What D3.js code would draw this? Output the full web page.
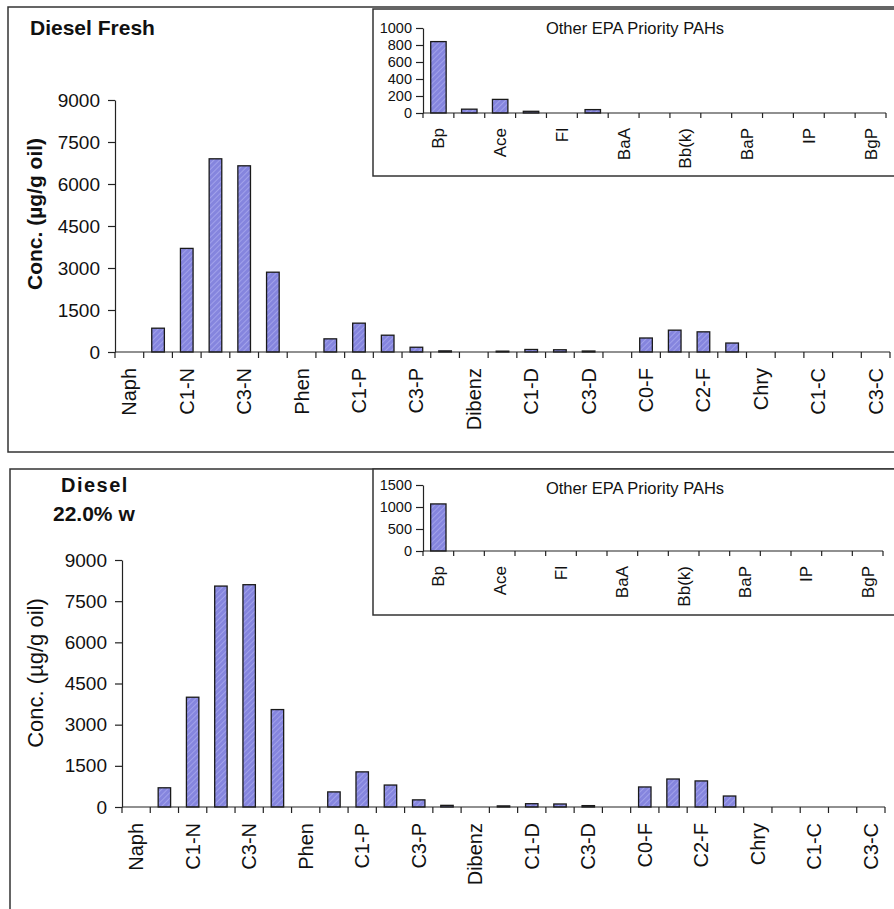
<!DOCTYPE html>
<html>
<head>
<meta charset="utf-8">
<script src="https://cdn.jsdelivr.net/npm/d3@7"></script>
<style>
  html, body { margin: 0; padding: 0; background: #fff; }
  svg { display: block; font-family: "Liberation Sans", Arial, sans-serif; }
</style>
</head>
<body>
<svg id="chart" width="894" height="909"></svg>
<script>
// Alkylated PAH groups (every other one is labelled on the axis)
const categories = ["Naph","C0-N","C1-N","C2-N","C3-N","C4-N",
  "Phen","C0-P","C1-P","C2-P","C3-P","C4-P",
  "Dibenz","C0-D","C1-D","C2-D","C3-D",
  "Fluor","C0-F","C1-F","C2-F","C3-F",
  "Chry","C0-C","C1-C","C2-C","C3-C"];

// Other EPA priority PAHs
const otherPAHs = ["Bp","Acl","Ace","An","Fl","Py","BaA","BkF","Bb(k)","BeP","BaP","Pe","IP","DA","BgP"];

// Concentrations, µg/g oil
const freshValues = [0, 850, 3700, 6900, 6650, 2850,
  0, 470, 1030, 600, 170, 40,
  0, 30, 90, 80, 35,
  0, 500, 780, 720, 320,
  0, 0, 0, 0, 0];
const weatheredValues = [0, 700, 4000, 8050, 8100, 3550,
  0, 550, 1280, 800, 260, 60,
  0, 40, 120, 110, 50,
  0, 730, 1020, 950, 400,
  0, 0, 0, 0, 0];

const freshOther = [840, 45, 160, 20, 0, 40, 0, 0, 0, 0, 0, 0, 0, 0, 0];
const weatheredOther = [1070, 0, 0, 0, 0, 0, 0, 0, 0, 0, 0, 0, 0, 0, 0];

const mainTicks = [0, 1500, 3000, 4500, 6000, 7500, 9000];
const freshOtherTicks = [0, 200, 400, 600, 800, 1000];
const weatheredOtherTicks = [0, 500, 1000, 1500];

const yLabel = "Conc. (µg/g oil)";
const insetTitle = "Other EPA Priority PAHs";

const svg = d3.select("#chart");

// Hatched purple fill used by every bar
const defs = svg.append("defs");
const pat = defs.append("pattern")
  .attr("id", "hatch")
  .attr("patternUnits", "userSpaceOnUse")
  .attr("width", 4).attr("height", 4)
  .attr("patternTransform", "rotate(45)");
pat.append("rect").attr("width", 4).attr("height", 4).attr("fill", "#8585de");
pat.append("line").attr("x1", 0).attr("y1", 0).attr("x2", 0).attr("y2", 4)
  .attr("stroke", "#a8a8ee").attr("stroke-width", 1.6);

function drawBars(g, cats, values, x, y, xRange, opts) {
  // bars
  g.append("g").selectAll("rect")
    .data(cats.map((c, i) => ({ c, v: values[i] })).filter(d => d.v > 0))
    .join("rect")
    .attr("x", d => x(d.c))
    .attr("width", x.bandwidth())
    .attr("y", d => y(d.v))
    .attr("height", d => y(0) - y(d.v))
    .attr("fill", "url(#hatch)")
    .attr("stroke", "#1a1a1a")
    .attr("stroke-width", 1.3);

  // y axis
  const yAxis = d3.axisLeft(y).tickValues(opts.yTicks)
    .tickFormat(d3.format("d"))
    .tickSize(opts.yTickSize).tickPadding(opts.yPad).tickSizeOuter(0);
  const ya = g.append("g").attr("transform", `translate(${xRange[0]},0)`).call(yAxis);
  ya.select(".domain").attr("stroke", "#222").attr("stroke-width", 1.2);
  ya.selectAll(".tick line").attr("stroke", "#222").attr("stroke-width", 1.2);
  ya.selectAll(".tick text").attr("font-size", opts.yFont).attr("fill", "#111")
    .attr("font-family", "'Liberation Sans', Arial, sans-serif");

  // x axis line with ticks between categories
  const base = y(0);
  g.append("line").attr("x1", xRange[0]).attr("x2", xRange[1])
    .attr("y1", base).attr("y2", base)
    .attr("stroke", "#222").attr("stroke-width", 1.2);
  const step = x.step();
  g.append("g").selectAll("line")
    .data(d3.range(cats.length + 1))
    .join("line")
    .attr("x1", i => xRange[0] + i * step).attr("x2", i => xRange[0] + i * step)
    .attr("y1", base).attr("y2", base + opts.xTickSize)
    .attr("stroke", "#222").attr("stroke-width", 1.2);

  // rotated category labels, every other one
  g.append("g").selectAll("text")
    .data(cats.filter((c, i) => i % 2 === 0))
    .join("text")
    .attr("transform", d => `translate(${x(d) + x.bandwidth() / 2},${base + opts.labelOffset}) rotate(-90)`)
    .attr("text-anchor", "end")
    .attr("dy", "0.35em")
    .attr("font-size", opts.xFont)
    .attr("fill", "#111")
    .text(d => d);
}

function drawPanel(p) {
  const g = svg.append("g");
  // outer frame
  g.append("rect").attr("x", p.frame[0]).attr("y", p.frame[1])
    .attr("width", p.frame[2]).attr("height", p.frame[3])
    .attr("fill", "none").attr("stroke", "#333").attr("stroke-width", 1.5);

  // main chart
  const x = d3.scaleBand().domain(categories).range(p.xRange)
    .paddingInner(0.56).paddingOuter(0.28);
  const y = d3.scaleLinear().domain([0, 9000]).range(p.yRange);
  drawBars(g, categories, p.values, x, y, p.xRange, {
    yTicks: mainTicks, yTickSize: 7, yPad: 8, yFont: 19,
    xTickSize: 6, xFont: 20, labelOffset: 16
  });

  // titles
  p.titles.forEach(t => {
    g.append("text").attr("x", t.x).attr("y", t.y)
      .attr("font-size", t.size).attr("font-weight", "bold")
      .attr("letter-spacing", t.spacing || 0)
      .attr("fill", "#111").text(t.text);
  });

  // y label
  g.append("text")
    .attr("transform", `translate(${p.yLabelPos[0]},${p.yLabelPos[1]}) rotate(-90)`)
    .attr("text-anchor", "middle")
    .attr("font-size", p.yLabelBold ? 21 : 22)
    .attr("font-weight", p.yLabelBold ? "bold" : "normal")
    .attr("fill", "#111")
    .text(yLabel);

  // inset chart
  const ig = g.append("g");
  ig.append("rect").attr("x", p.inset.frame[0]).attr("y", p.inset.frame[1])
    .attr("width", p.inset.frame[2]).attr("height", p.inset.frame[3])
    .attr("fill", "#fff").attr("stroke", "#333").attr("stroke-width", 1.5);
  const ix = d3.scaleBand().domain(otherPAHs).range(p.inset.xRange)
    .paddingInner(0.5).paddingOuter(0.25);
  const iy = d3.scaleLinear().domain([0, p.inset.max]).range(p.inset.yRange);
  drawBars(ig, otherPAHs, p.inset.values, ix, iy, p.inset.xRange, {
    yTicks: p.inset.ticks, yTickSize: 7, yPad: 4, yFont: 14.5,
    xTickSize: 5, xFont: 17, labelOffset: 15
  });
  ig.append("text").attr("x", p.inset.titlePos[0]).attr("y", p.inset.titlePos[1])
    .attr("text-anchor", "middle").attr("font-size", 16.5).attr("fill", "#111")
    .text(insetTitle);
}

drawPanel({
  frame: [8, 7, 900, 445],
  xRange: [115, 890], yRange: [352, 100],
  values: freshValues,
  titles: [{ text: "Diesel Fresh", x: 30, y: 35, size: 21 }],
  yLabelPos: [42, 214], yLabelBold: true,
  inset: {
    frame: [373, 9, 540, 167],
    xRange: [423, 886], yRange: [113, 28],
    max: 1000, ticks: freshOtherTicks, values: freshOther,
    titlePos: [635, 34]
  }
});

drawPanel({
  frame: [10, 469, 900, 460],
  xRange: [122, 885], yRange: [807, 560],
  values: weatheredValues,
  titles: [
    { text: "Diesel", x: 61, y: 492, size: 20, spacing: 1.5 },
    { text: "22.0% w", x: 53, y: 521, size: 21 }
  ],
  yLabelPos: [43, 673], yLabelBold: false,
  inset: {
    frame: [373, 469, 540, 146],
    xRange: [423, 883], yRange: [551, 485],
    max: 1500, ticks: weatheredOtherTicks, values: weatheredOther,
    titlePos: [635, 494]
  }
});
</script>
</body>
</html>
